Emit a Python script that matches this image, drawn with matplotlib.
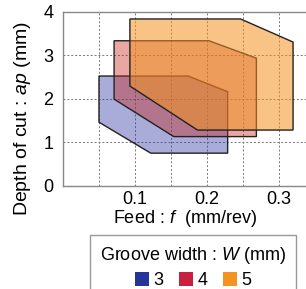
import matplotlib
matplotlib.use('Agg')

import matplotlib.pyplot as plt
from matplotlib.patches import Patch

plt.rcParams['font.family'] = ['Liberation Sans', 'DejaVu Sans']
plt.rcParams['mathtext.fontset'] = 'custom'
plt.rcParams['mathtext.rm'] = 'Liberation Sans'
plt.rcParams['mathtext.it'] = 'Liberation Sans:italic'

# groove widths and their feasible (feed, depth) regions
widths = ['3', '4', '5']
feed_3 = [0.050, 0.174, 0.229, 0.229, 0.122, 0.050]
depth_3 = [2.52, 2.52, 2.16, 0.75, 0.75, 1.46]
feed_4 = [0.071, 0.203, 0.269, 0.269, 0.154, 0.071]
depth_4 = [3.33, 3.33, 2.93, 1.13, 1.13, 1.99]
feed_5 = [0.093, 0.247, 0.320, 0.320, 0.187, 0.093]
depth_5 = [3.83, 3.83, 3.30, 1.28, 1.28, 2.29]

colors = ['#24349a', '#c8213f', '#f39322']
fill_colors = ['#2a2fa0', '#c42418', '#f39322']
alphas = [0.40, 0.40, 0.55]

fig = plt.figure(figsize=(3.06, 2.89), dpi=100)
ax = fig.add_axes([0.206, 0.357, 0.794, 0.603])

regions = [(feed_3, depth_3), (feed_4, depth_4), (feed_5, depth_5)]
for (fx, dy), c, a in zip(regions, fill_colors, alphas):
    rgba = matplotlib.colors.to_rgba(c, a)
    ax.fill(fx, dy, facecolor=rgba, edgecolor='#222222', linewidth=1.0, zorder=3)

ax.set_xlim(0, 0.338)
ax.set_ylim(0, 4)
ax.set_xticks([0.1, 0.2, 0.3])
ax.set_xticklabels(['0.1', '0.2', '0.3'])
ax.set_xticks([0.05, 0.15, 0.25], minor=True)
ax.set_yticks([0, 1, 2, 3, 4])
ax.tick_params(axis='both', which='both', length=0, labelsize=13)
ax.tick_params(axis='x', pad=4)
ax.tick_params(axis='y', pad=7)

ax.grid(True, which='both', color='#777777', linestyle=(0, (2, 2)), linewidth=0.7, zorder=1)
ax.set_axisbelow(True)

for s in ['left', 'top', 'bottom']:
    ax.spines[s].set_color('#888888')
    ax.spines[s].set_linewidth(1.0)
ax.spines['right'].set_visible(False)

ax.set_xlabel('Feed : $f$  (mm/rev)', fontsize=13, labelpad=0)
fig.text(0.072, 0.59, 'Depth of cut : $ap$ (mm)', rotation=90, fontsize=14,
         ha='center', va='center')

handles = [Patch(facecolor=c, edgecolor='none') for c in colors]
leg = fig.legend(handles, widths, loc='upper left', bbox_to_anchor=(0.294, 0.187),
                 ncol=3, title='Groove width : $W$ (mm)', fontsize=13, title_fontsize=13,
                 handlelength=0.78, handleheight=0.78, handletextpad=0.25,
                 columnspacing=0.85, borderpad=0.55, labelspacing=0.35,
                 borderaxespad=0, fancybox=False, framealpha=1)
leg.get_frame().set_edgecolor('#999999')
leg.get_frame().set_linewidth(1.0)

plt.savefig('out.png', dpi=100)
